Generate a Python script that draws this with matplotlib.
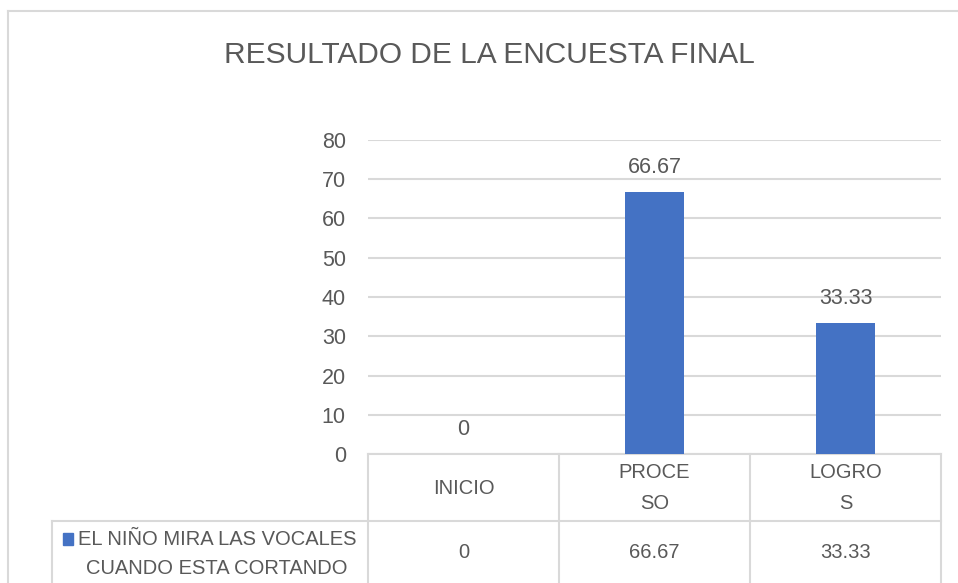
import matplotlib.pyplot as plt
from matplotlib.lines import Line2D
from matplotlib.patches import Rectangle

# ---------------------------------------------------------------------------
# Data
# ---------------------------------------------------------------------------
titulo = "RESULTADO DE LA ENCUESTA FINAL"
categorias = ["INICIO", "PROCESO", "LOGROS"]
etiquetas_tabla = ["INICIO", "PROCE\nSO", "LOGRO\nS"]
serie = "EL NIÑO MIRA LAS VOCALES\nCUANDO ESTA CORTANDO"
valores = [0, 66.67, 33.33]
yticks = [0, 10, 20, 30, 40, 50, 60, 70, 80]

BLUE = "#4472C4"
GRID = "#d9d9d9"
TEXT = "#595959"

plt.rcParams["font.family"] = ["Liberation Sans", "DejaVu Sans"]

fig = plt.figure(figsize=(9.58, 5.83), dpi=100)
W, H = 958, 583
ax = fig.add_axes([368 / W, 1 - 454 / H, 573 / W, 314 / H])

x = list(range(len(categorias)))
ax.bar(x, valores, width=0.314, color=BLUE, zorder=3)
ax.set_xlim(-0.5, len(categorias) - 0.5)
ax.set_ylim(0, 80)
ax.set_yticks(yticks)
ax.tick_params(axis="y", length=0, pad=16, labelsize=15.5, labelcolor=TEXT)
ax.set_xticks([])
ax.yaxis.grid(True, color=GRID, linewidth=1.5)
ax.set_axisbelow(True)
for side in ("top", "right", "left"):
    ax.spines[side].set_visible(False)
ax.spines["bottom"].set_color(GRID)
ax.spines["bottom"].set_linewidth(1.5)

# value labels
for xi, v in zip(x, valores):
    ax.annotate(f"{v:g}", (xi, v), xytext=(0, 10), textcoords="offset points",
                ha="center", va="bottom", fontsize=15.5, color=TEXT)

# title
fig.text(489 / W, 1 - 55 / H, titulo, ha="center", va="center",
         fontsize=21.5, color=TEXT)

# data table below the axis
xt = ax.get_xaxis_transform()
row1 = -67 / 314
bottom = -129 / 314
lk = dict(color=GRID, linewidth=1.5, clip_on=False)
for b in [-0.5, 0.5, 1.5, 2.5]:
    ax.add_line(Line2D([b, b], [0, bottom], transform=xt, **lk))
ax.add_line(Line2D([(52 - 368) / 573, 1], [row1, row1], transform=ax.transAxes, **lk))
ax.add_line(Line2D([(52 - 368) / 573] * 2, [row1, bottom], transform=ax.transAxes, **lk))

for xi, lab, v in zip(x, etiquetas_tabla, valores):
    ax.text(xi, -34 / 314, lab, transform=xt, ha="center", va="center",
            fontsize=14.5, color=TEXT, linespacing=1.75)
    ax.text(xi, -99 / 314, f"{v:g}", transform=xt, ha="center", va="center",
            fontsize=14.5, color=TEXT)

# legend key in the table
ax.text((217 - 368) / 573, -100 / 314, serie, transform=ax.transAxes,
        ha="center", va="center", multialignment="center",
        fontsize=14.5, color=TEXT, linespacing=1.65)
ax.add_patch(Rectangle(((63 - 368) / 573, -(545 - 454) / 314), 10 / 573, 12 / 314,
                       transform=ax.transAxes, color=BLUE, clip_on=False))

# chart border (top / left visible)
fig.add_artist(Line2D([8 / W, 1], [1 - 11 / H] * 2, color=GRID, linewidth=1.5))
fig.add_artist(Line2D([8 / W] * 2, [0, 1 - 11 / H], color=GRID, linewidth=1.5))

fig.savefig("out.png", dpi=100)
